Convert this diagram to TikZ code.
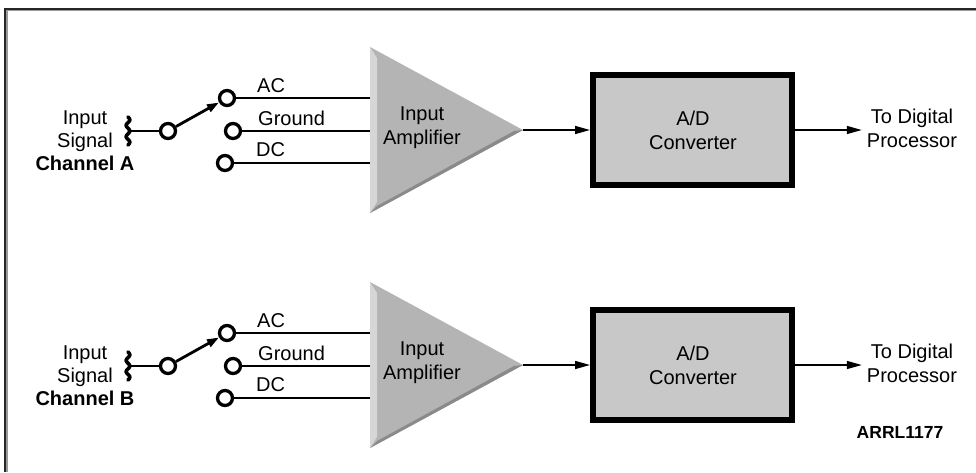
\documentclass[tikz,border=0pt]{standalone}
\usepackage{fontspec}
\setmainfont{Liberation Sans}
\usetikzlibrary{arrows.meta}
\definecolor{ampfill}{HTML}{B4B4B4}
\definecolor{amplight}{HTML}{D6D6D6}
\definecolor{ampdark}{HTML}{8A8A8A}
\definecolor{boxfill}{HTML}{C8C8C8}
\tikzset{
  lbl/.style={font=\fontsize{20}{24}\selectfont, inner sep=0pt, align=center},
  term/.style={circle, draw, line width=3.3pt, minimum size=15pt, inner sep=0pt, fill=white},
  wire/.style={line width=1.5pt},
  sigarrow/.style={line width=1.5pt, -{Triangle[length=15pt,width=8pt]}},
  armline/.style={line width=2.8pt, -{Triangle[length=12pt,width=8pt]}},
  adbox/.style={draw, line width=6pt, fill=boxfill},
}
\begin{document}
\begin{tikzpicture}[x=1pt,y=-1pt]
\useasboundingbox (0,0) rectangle (976,472);
% frame
\draw[line width=2pt, black!85] (976,8.5) -- (5,8.5) -- (5,472);
\draw[line width=1.2pt, black!40] (976,10.5) -- (7,10.5) -- (7,472);

\foreach \ch/\dy in {A/0,B/235}{
  % input label
  \node[lbl, font=\fontsize{20}{23}\selectfont] (lab\ch) at (85,\dy+141) {Input\\Signal\\\textbf{Channel \ch}};
  % input squiggle
  \coordinate (jack\ch) at (128,\dy+131);
  \draw[line width=3.6pt, line cap=round] plot[domain=0:1, samples=40] ({128+1.8*sin(900*\x)}, {\dy+117+28*\x});
  % terminals
  \node[term] (cin\ch) at (168,\dy+131) {};
  \node[term] (cac\ch) at (227,\dy+98) {};
  \node[term] (cgnd\ch) at (233,\dy+131) {};
  \node[term] (cdc\ch) at (225,\dy+163) {};
  \draw[wire] (jack\ch) -- (cin\ch);
  \draw[armline] (cin\ch) -- (cac\ch);
  % labels
  \node[lbl, anchor=west] (tac\ch) at (257,\dy+86) {AC};
  \node[lbl, anchor=west] (tgnd\ch) at (258,\dy+118) {Ground};
  \node[lbl, anchor=west] (tdc\ch) at (256,\dy+150) {DC};
  % amplifier
  \coordinate (ampT\ch) at (370,\dy+47);
  \coordinate (ampB\ch) at (370,\dy+213);
  \coordinate (amp\ch) at (523,\dy+130);
  \fill[ampfill] (ampT\ch) -- (amp\ch) -- (ampB\ch) -- cycle;
  \fill[amplight] (ampT\ch) -- (377,\dy+58) -- (377,\dy+202) -- (ampB\ch) -- cycle;
  \fill[ampdark] (ampB\ch) -- (amp\ch) -- (514,\dy+131) -- (377,\dy+206) -- cycle;
  \node[lbl] (tamp\ch) at (422,\dy+128) {Input\\Amplifier};
  % wires into amplifier
  \draw[wire] (cac\ch.east) -- (cac\ch.east -| ampT\ch);
  \draw[wire] (cgnd\ch.east) -- (cgnd\ch.east -| ampT\ch);
  \draw[wire] (cdc\ch.east) -- (cdc\ch.east -| ampT\ch);
  % A/D converter
  \node[adbox, minimum width=199pt, minimum height=110pt, inner sep=0pt] (ad\ch) at (692.5,\dy+130) {};
  \node[lbl] (tad\ch) at (693,\dy+130) {A/D\\Converter};
  \draw[sigarrow] (amp\ch) -- (ad\ch.west);
  % output
  \node[lbl] (out\ch) at (912,\dy+128) {To Digital\\Processor};
  \draw[sigarrow] (ad\ch.east) -- ([xshift=-5pt]ad\ch.east -| out\ch.west);
}
\node[lbl, font=\fontsize{17.5}{20}\selectfont\bfseries] (code) at (900,432) {ARRL1177};
\end{tikzpicture}
\end{document}
